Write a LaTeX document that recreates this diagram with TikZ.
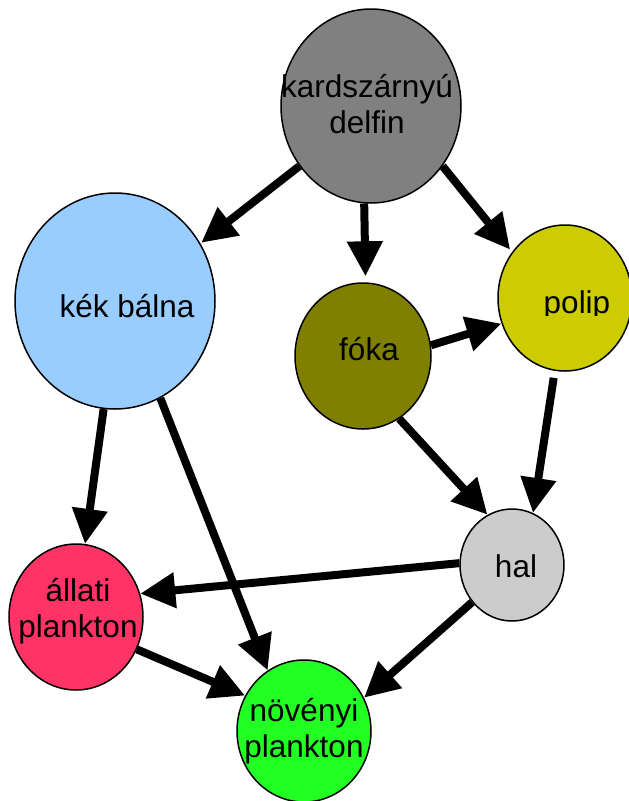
\documentclass[tikz,border=0pt]{standalone}
\usepackage{fontspec}
\setmainfont{Liberation Sans}
\usetikzlibrary{shapes.geometric,arrows.meta}
\definecolor{orcagray}{HTML}{808080}
\definecolor{whaleblue}{HTML}{99CCFF}
\definecolor{sealolive}{HTML}{808000}
\definecolor{octoyellow}{HTML}{CCCC00}
\definecolor{fishgray}{HTML}{CCCCCC}
\definecolor{zoored}{HTML}{FF3366}
\definecolor{phytogreen}{HTML}{22FF22}
\begin{document}
\begin{tikzpicture}[x=1pt,y=-1pt,
  species/.style={ellipse, draw=black, line width=1.5pt, inner sep=0pt},
  caption/.style={font=\fontsize{31.5}{36}\selectfont, align=center, anchor=base, inner sep=0pt},
  feeds/.style={line width=8pt, -{Triangle[length=35pt,width=34pt]}}]
\useasboundingbox (0,0) rectangle (629,801);

% species
\node[species, fill=orcagray, minimum width=180pt, minimum height=194pt] (delfin) at (371,106) {};
\node[species, fill=whaleblue, minimum width=200pt, minimum height=216pt] (balna) at (115,301) {};
\node[species, fill=sealolive, minimum width=136pt, minimum height=146pt] (foka) at (363,356) {};
\node[species, fill=octoyellow, minimum width=134pt, minimum height=146pt] (polip) at (565,298) {};
\node[species, fill=fishgray, minimum width=104pt, minimum height=112pt] (hal) at (512,565) {};
\node[species, fill=zoored, minimum width=134pt, minimum height=146pt] (allati) at (76,617) {};
\node[species, fill=phytogreen, minimum width=134pt, minimum height=142pt] (novenyi) at (304,731) {};

% names (two-line names sit on the baseline of their last line)
\node[caption] (tdelfin) at (367,133) {kardszárnyú\\delfin};
\node[caption] (tbalna) at (127,317) {kék bálna};
\node[caption] (tfoka) at (369,360) {fóka};
\begin{scope}
  \clip (520,260) rectangle (629,315);
  \node[caption] (tpolip) at (577,313) {polip};
\end{scope}
\node[caption] (thal) at (516,577) {hal};
\node[caption] (tallati) at (78,637) {állati\\plankton};
\node[caption] (tnovenyi) at (304,757) {növényi\\plankton};

% who eats whom
\draw[feeds, shorten >=1pt] (delfin.220) -- (balna.34);
\draw[feeds, shorten >=6pt] (delfin.266) -- (foka.88.5);
\draw[feeds, shorten >=3pt] (delfin.-40) -- (polip.139);
\draw[feeds] (foka.9.6) -- (polip.202.5);
\draw[feeds] (foka.-60.6) -- (hal.116.6);
\draw[feeds, shorten <=7pt] (polip.-98.5) -- (hal.68.4);
\draw[feeds] (balna.-96) -- (allati.83);
\draw[feeds] (balna.-65.7) -- (novenyi.121);
\draw[feeds] (hal.178) -- (allati.20.5);
\draw[feeds] (hal.223.5) -- (novenyi.29);
\draw[feeds] (allati.-28) -- (novenyi.149.5);
\end{tikzpicture}
\end{document}
